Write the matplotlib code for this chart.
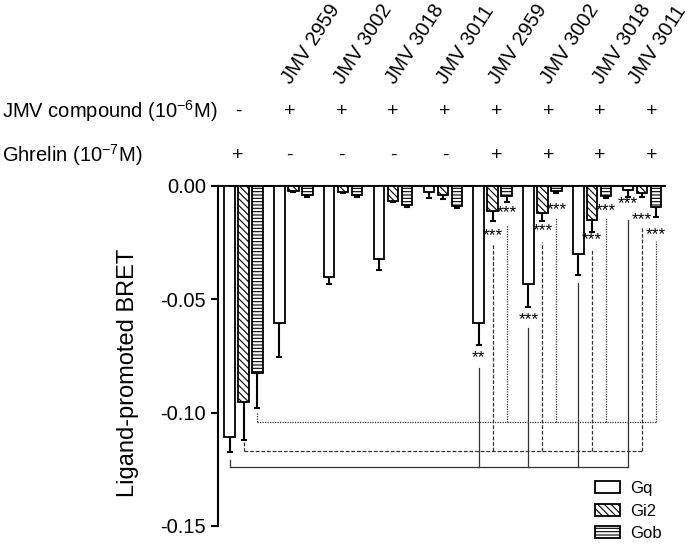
import numpy as np
import matplotlib
matplotlib.use("Agg")
import matplotlib.pyplot as plt
import matplotlib.transforms as mtransforms
from matplotlib.patches import Patch

plt.rcParams["font.family"] = ["Liberation Sans", "DejaVu Sans"]
plt.rcParams["mathtext.fontset"] = "custom"
plt.rcParams["mathtext.rm"] = "Liberation Sans"
plt.rcParams["axes.unicode_minus"] = False
plt.rcParams["hatch.linewidth"] = 0.8

# %%
# Data (ligand-promoted BRET, mean and SEM)

compounds = ["JMV 2959", "JMV 3002", "JMV 3018", "JMV 3011"] * 2
jmv_row = ["-", "+", "+", "+", "+", "+", "+", "+", "+"]
ghrelin_row = ["+", "-", "-", "-", "-", "+", "+", "+", "+"]
series = ["Gq", "Gi2", "Gob"]

gq = [-0.1106, -0.0604, -0.0401, -0.0323, -0.0028, -0.0604, -0.0433, -0.0302, -0.0020]
gq_err = [0.0066, 0.0149, 0.0032, 0.0048, 0.0026, 0.0098, 0.0100, 0.0091, 0.0031]
gi2 = [-0.0952, -0.0025, -0.0028, -0.0066, -0.0040, -0.0113, -0.0122, -0.0151, -0.0032]
gi2_err = [0.0171, 0.0004, 0.0004, 0.0006, 0.0017, 0.0041, 0.0032, 0.0052, 0.0019]
gob = [-0.0826, -0.0042, -0.0042, -0.0084, -0.0091, -0.0047, -0.0025, -0.0047, -0.0095]
gob_err = [0.0156, 0.0008, 0.0006, 0.0010, 0.0006, 0.0025, 0.0007, 0.0007, 0.0043]

# significance vs ghrelin alone: (group, label, label y, line top)
sig_gq = [(5, "**", -0.0760, -0.0803), (6, "***", -0.0590, -0.0627),
          (7, "", None, -0.0429), (8, "***", -0.0080, -0.0150)]
sig_gi2 = [(5, "***", -0.0218, -0.0257), (6, "***", -0.0200, -0.0247),
           (7, "***", -0.0236, -0.0279), (8, "***", -0.0148, -0.0181)]
sig_gob = [(5, "***", -0.0120, -0.0173), (6, "***", -0.0105, -0.0142),
           (7, "***", -0.0112, -0.0141), (8, "***", -0.0214, -0.0242)]
bracket_base = [-0.1242, -0.1169, -0.1041]
bracket_start = [-0.1208, -0.1128, -0.1001]

# %%
fig = plt.figure(figsize=(6.93, 5.44), dpi=100)
ax = fig.add_axes([0.3146, 0.0331, 0.645, 0.6256])

x = np.arange(len(gq))
off = 0.28
width = 0.21
hatches = ["", "\\\\\\\\\\", "-----"]
values = [gq, gi2, gob]
errors = [gq_err, gi2_err, gob_err]

for k in range(3):
    xs = x + (k - 1) * off
    ax.bar(xs, values[k], width, color="white", edgecolor="black",
           linewidth=1.3, hatch=hatches[k], zorder=3)
    err = np.array(errors[k])
    ax.errorbar(xs, values[k], yerr=[err, np.zeros_like(err)], fmt="none",
                ecolor="black", elinewidth=1.5, capsize=2.5, capthick=1.5,
                zorder=2)

# comparison brackets
styles = ["-", (0, (3, 1.5)), (0, (1, 1))]
for k, sig in enumerate([sig_gq, sig_gi2, sig_gob]):
    dx = (k - 1) * off
    base = bracket_base[k]
    ax.plot([x[0] + dx, x[0] + dx], [bracket_start[k], base], color="#333333",
            lw=0.9, ls=styles[k])
    last = sig[-1][0]
    ax.plot([x[0] + dx, x[last] + dx], [base, base], color="#333333",
            lw=0.9, ls=styles[k])
    for g, lab, ly, top in sig:
        ax.plot([x[g] + dx, x[g] + dx], [base, top], color="#333333",
                lw=0.9, ls=styles[k])
        if lab:
            ax.text(x[g] + dx, ly, lab, ha="center", va="center",
                    fontsize=12.5)

ax.set_xlim(-0.512, 8.46)
ax.set_ylim(-0.15, 0)
ax.set_yticks([0, -0.05, -0.10, -0.15])
ax.set_yticklabels(["0.00", "-0.05", "-0.10", "-0.15"], fontsize=14.5)
ax.set_xticks([])
ax.tick_params(axis="y", direction="out", length=5, width=1.5)
for s in ["bottom", "right"]:
    ax.spines[s].set_visible(False)
ax.spines["left"].set_linewidth(1.5)
ax.spines["top"].set_linewidth(1.5)
fig.text(128 / 693, 1 - 373 / 544, "Ligand-promoted BRET", fontsize=17,
         rotation=90, ha="center", va="center")

# condition rows above the plot
trans = mtransforms.blended_transform_factory(ax.transData, fig.transFigure)
sign_x = -0.11 + 1.038 * x
label_nudge = [0, 0, 0, 0, 0, 0, 0, -0.3]
fig.text(0.003, 1 - 111 / 544, "JMV compound (10$^{-6}$M)", fontsize=14.5,
         va="center")
fig.text(0.003, 1 - 155 / 544, "Ghrelin (10$^{-7}$M)", fontsize=14.5,
         va="center")
for i in range(len(x)):
    ax.text(sign_x[i], 1 - 111 / 544, jmv_row[i], transform=trans,
            ha="center", va="center", fontsize=14)
    ax.text(sign_x[i], 1 - 155 / 544, ghrelin_row[i], transform=trans,
            ha="center", va="center", fontsize=14)
for i, name in enumerate(compounds):
    ax.text(sign_x[i + 1] + 0.03 + label_nudge[i], 1 - 85 / 544, name,
            transform=trans, rotation=57, rotation_mode="anchor",
            ha="left", va="baseline", fontsize=14.5)

handles = [Patch(facecolor="white", edgecolor="black", linewidth=1.3,
                 hatch=h) for h in hatches]
fig.legend(handles, series, loc="upper left",
           bbox_to_anchor=(595 / 693, 1 - 481 / 544), frameon=False,
           fontsize=12, handlelength=1.5, handleheight=0.7,
           labelspacing=0.45, handletextpad=0.6, borderpad=0,
           borderaxespad=0)

fig.savefig("out.png", dpi=100)
